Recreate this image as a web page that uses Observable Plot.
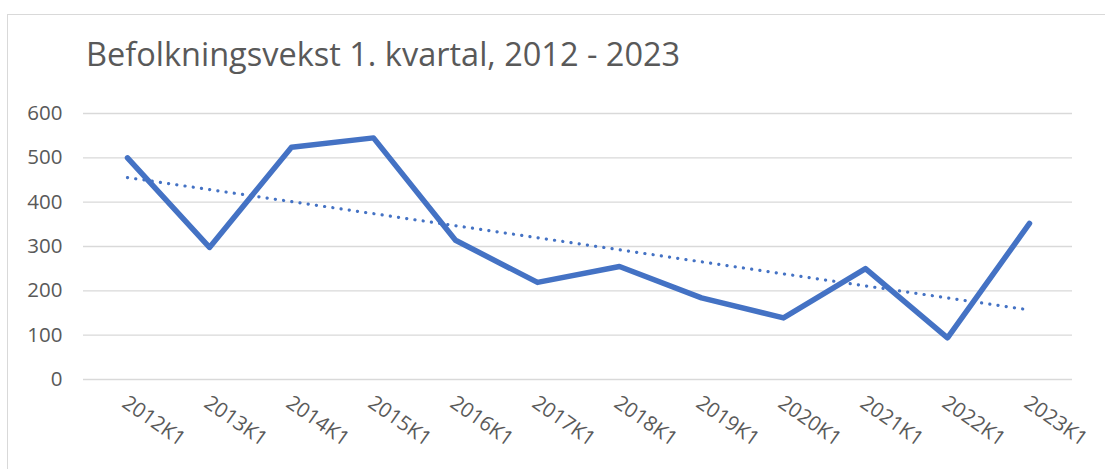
<!DOCTYPE html>
<html>
<head>
<meta charset="utf-8">
<script src="https://cdn.jsdelivr.net/npm/d3@7"></script>
<script src="https://cdn.jsdelivr.net/npm/@observablehq/plot@0.6"></script>
<style>
  html, body { margin: 0; padding: 0; background: #fff; }
  #wrap { position: relative; width: 1105px; height: 469px; overflow: hidden; background: #fff; }
  #frame { position: absolute; left: 7px; top: 14px; width: 1120px; height: 480px; border: 1px solid #d9d9d9; box-sizing: border-box; }
  #title { position: absolute; left: 86px; top: 38px; font-family: "Open Sans", sans-serif; font-size: 32.5px; color: #595959; white-space: nowrap; line-height: 1; }
  #chart { position: absolute; left: 0; top: 0; }
</style>
</head>
<body>
<div id="wrap">
  <div id="frame"></div>
  <div id="chart"></div>
  <div id="title">Befolkningsvekst 1. kvartal, 2012 - 2023</div>
</div>
<script>
const categories = ["2012K1","2013K1","2014K1","2015K1","2016K1","2017K1","2018K1","2019K1","2020K1","2021K1","2022K1","2023K1"];
const values = [500, 298, 524, 545, 314, 219, 255, 184, 139, 250, 94, 352];
const yTicks = [0, 100, 200, 300, 400, 500, 600];

const data = categories.map((c, i) => ({cat: c, i, v: values[i]}));

// linear trend (least squares) computed from the data
const mx = d3.mean(data, d => d.i);
const my = d3.mean(data, d => d.v);
const slope = d3.sum(data, d => (d.i - mx) * (d.v - my)) / d3.sum(data, d => (d.i - mx) ** 2);
const icpt = my - slope * mx;
const trend = data.map(d => ({cat: d.cat, v: icpt + slope * d.i}));

const plot = Plot.plot({
  width: 1105,
  height: 469,
  marginLeft: 83,
  marginRight: 33,
  marginTop: 113,
  marginBottom: 90,
  style: {fontFamily: "'Open Sans', sans-serif", fontSize: "20.5px", color: "#595959", background: "transparent", overflow: "visible"},
  x: {type: "point", domain: categories, padding: 0.5},
  y: {domain: [0, 600]},
  marks: [
    Plot.ruleY(yTicks, {stroke: "#d9d9d9", strokeWidth: 1.4}),
    Plot.axisY({ticks: yTicks, tickSize: 0, tickPadding: 21, label: null, fontSize: 20.5, fill: "#595959"}),
    Plot.axisX({tickSize: 0, tickRotate: 35, tickPadding: 21, dx: -3, label: null, fontSize: 20.5, fill: "#595959"}),
    Plot.line(trend, {x: "cat", y: "v", stroke: "#4472C4", strokeWidth: 3.2, strokeDasharray: "0.1 8.2", strokeLinecap: "round"}),
    Plot.line(data, {x: "cat", y: "v", stroke: "#4472C4", strokeWidth: 5.5, strokeLinejoin: "round", strokeLinecap: "round"})
  ]
});
document.getElementById("chart").appendChild(plot);
</script>
</body>
</html>
